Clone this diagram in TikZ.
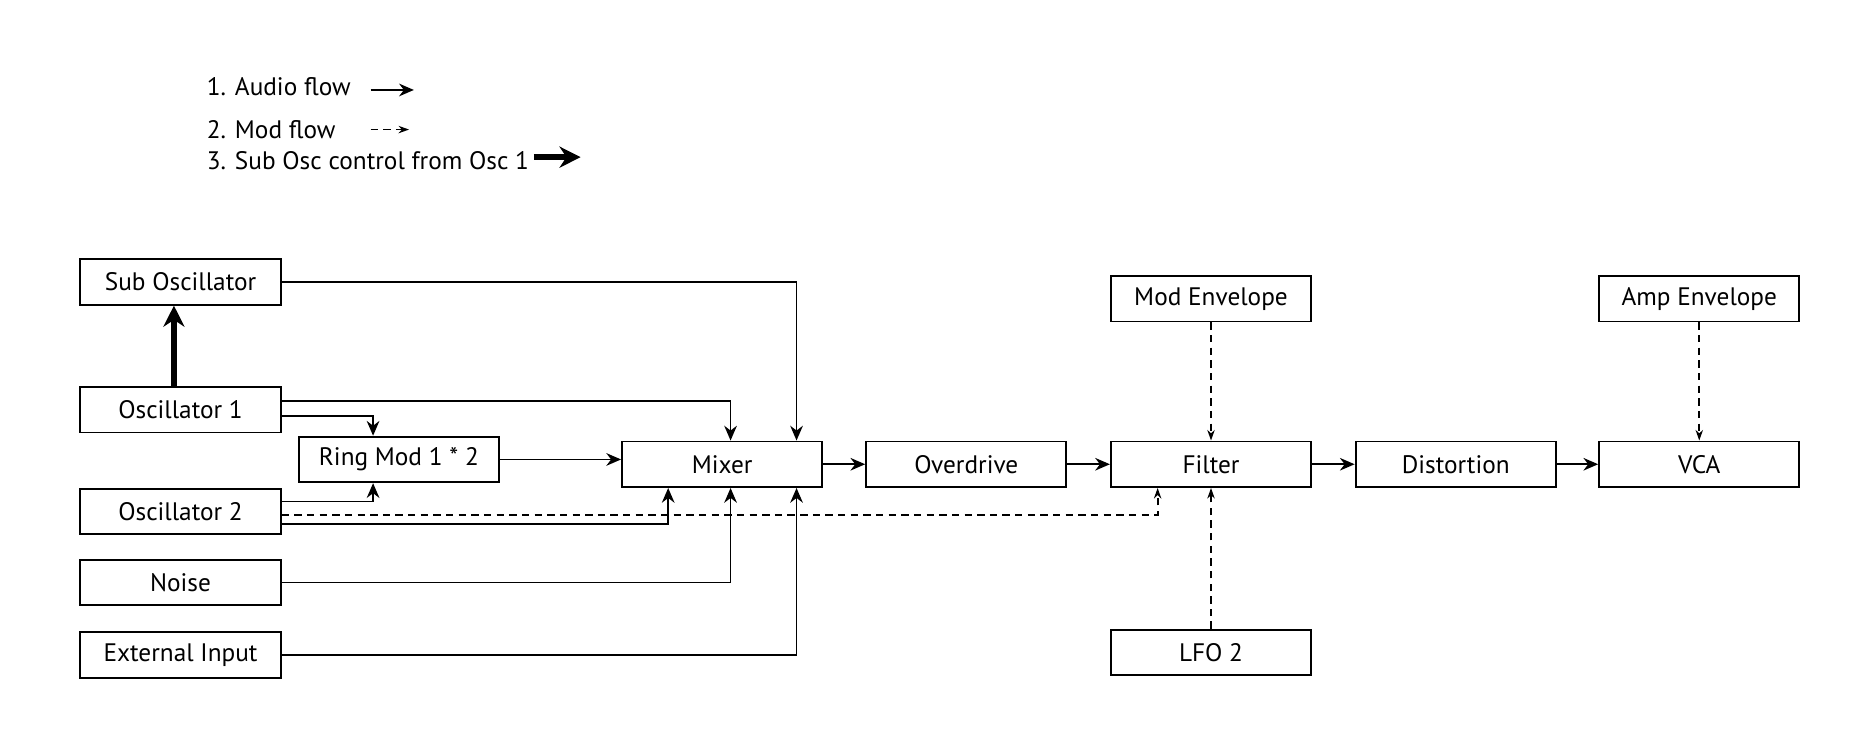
\documentclass[tikz,border=0pt]{standalone}
\usepackage{fontspec}
\setmainfont{PT Sans}
\usetikzlibrary{arrows.meta,calc}
\begin{document}
\begin{tikzpicture}[x=0.02cm,y=-0.02cm,
  box/.style={draw,line width=0.9pt,minimum width=3.34cm,minimum height=0.76cm,inner sep=0pt,font=\fontsize{12}{14}\selectfont},
  au/.style={line width=0.85pt,-{Stealth[length=7pt,width=6pt]}},
  md/.style={line width=0.85pt,dash pattern=on 3.5pt off 2.5pt,-{Stealth[length=5pt,width=3.5pt]}},
  th/.style={line width=3pt,-{Stealth[length=10pt,width=10pt]}},
  lg/.style={anchor=west,inner sep=0pt,font=\fontsize{12}{14}\selectfont}]
\useasboundingbox (0,0) rectangle (1563,625);
% legend
\node[lg] (l1) at (172,72) {1. Audio flow};
\node[lg] (l2) at (172,108) {2. Mod flow};
\node[lg] (l3) at (172,134) {3. Sub Osc control from Osc 1};
\coordinate (a1) at (309,75); \coordinate (b1) at (345,75);
\coordinate (a2) at (309,108); \coordinate (b2) at (341,108);
\coordinate (a3) at (445,131); \coordinate (b3) at (484,131);
\draw[au] (a1) -- (b1);
\draw[md] (a2) -- (b2);
\draw[th] (a3) -- (b3);
% boxes
\node[box] (sub) at (150.5,235) {Sub Oscillator};
\node[box] (o1) at (150.5,341.5) {Oscillator 1};
\node[box] (ring) at (332.5,383) {Ring Mod 1 * 2};
\node[box] (o2) at (150.5,426.5) {Oscillator 2};
\node[box] (noise) at (150.5,485.5) {Noise};
\node[box] (ext) at (150.5,546) {External Input};
\node[box] (mix) at (602,387) {Mixer};
\node[box] (od) at (805.5,387) {Overdrive};
\node[box] (fil) at (1009.5,387) {Filter};
\node[box] (dist) at (1213.5,387) {Distortion};
\node[box] (vca) at (1416.5,387) {VCA};
\node[box] (menv) at (1009.5,249) {Mod Envelope};
\node[box] (aenv) at (1416.5,249) {Amp Envelope};
\node[box] (lfo) at (1009.5,544) {LFO 2};
% connections
\draw[th] ($(o1.north)+(-5.5,0)$) -- ($(sub.south)+(-5.5,0)$);
\draw[au] (sub.east) -| ($(mix.north)+(62,0)$);
\draw[au] ($(o1.east)+(0,-7.5)$) -| ($(mix.north)+(7,0)$);
\draw[au] ($(o1.east)+(0,5.5)$) -| ($(ring.north)+(-21.5,0)$);
\draw[au] ($(o2.east)+(0,-8.5)$) -| ($(ring.south)+(-21.5,0)$);
\draw[au] ($(o2.east)+(0,10.5)$) -| ($(mix.south)+(-45,0)$);
\draw[md] ($(o2.east)+(0,2.5)$) -| ($(fil.south)+(-44.5,0)$);
\draw[au] (noise.east) -| ($(mix.south)+(7,0)$);
\draw[au] (ext.east) -| ($(mix.south)+(62,0)$);
\draw[au] (ring.east) -- ($(mix.west)+(0,-4)$);
\draw[au] (mix) -- (od);
\draw[au] (od) -- (fil);
\draw[au] (fil) -- (dist);
\draw[au] (dist) -- (vca);
\draw[md] (menv) -- (fil);
\draw[md] (lfo) -- (fil);
\draw[md] (aenv) -- (vca);
\end{tikzpicture}
\end{document}
